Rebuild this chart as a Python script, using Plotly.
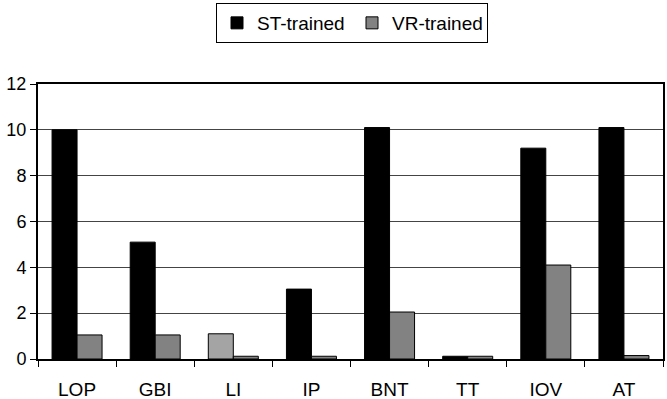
import plotly.graph_objects as go

categories = ["LOP", "GBI", "LI", "IP", "BNT", "TT", "IOV", "AT"]
st_trained = [10.0, 5.1, 1.1, 3.05, 10.1, 0.12, 9.2, 10.1]
vr_trained = [1.05, 1.05, 0.12, 0.12, 2.05, 0.12, 4.1, 0.15]

hatch = dict(shape=".", size=2, solidity=0.9, fgcolor="#000", bgcolor="#ffffff", fillmode="overlay")

st_colors = ["black"] * len(categories)
st_shapes = [""] * len(categories)
st_colors[2] = "#ffffff"
st_shapes[2] = "."

fig = go.Figure()
fig.add_trace(go.Bar(
    x=categories, y=st_trained, name="ST-trained",
    marker=dict(color=st_colors, line=dict(color="black", width=1),
                pattern=dict(shape=st_shapes, size=2, solidity=0.9, fgcolor="#000",
                             bgcolor="#ffffff", fillmode="overlay")),
))
fig.add_trace(go.Bar(
    x=categories, y=vr_trained, name="VR-trained",
    marker=dict(color="#ffffff", line=dict(color="black", width=1), pattern=hatch),
))

fig.update_layout(
    width=667, height=399,
    margin=dict(l=38, r=4, t=84, b=40, autoexpand=False),
    paper_bgcolor="white", plot_bgcolor="white",
    barmode="group", bargap=0.36, bargroupgap=0,
    font=dict(family="Liberation Sans, Arial, sans-serif", size=19, color="black"),
    showlegend=True,
    legend=dict(orientation="h", x=352 / 667, xanchor="center", xref="container",
                y=1 - 3 / 399, yanchor="top", yref="container",
                bordercolor="black", borderwidth=1, font=dict(size=19),
                itemwidth=30, traceorder="normal", tracegroupgap=0,
                entrywidth=90, entrywidthmode="pixels"),
)
fig.update_xaxes(
    automargin=False,
    showline=True, linecolor="black", linewidth=2, mirror=True,
    ticks="outside", tickson="boundaries", ticklen=6, tickcolor="black",
    showgrid=False, tickfont=dict(size=19), ticklabelstandoff=12,
)
fig.update_yaxes(
    automargin=False,
    range=[0, 12], dtick=2, showline=True, linecolor="black", linewidth=2, mirror=True,
    ticks="outside", ticklen=6, tickcolor="black", tickfont=dict(size=18),
    showgrid=True, gridcolor="#444", gridwidth=1, zeroline=False,
)

fig.write_html("out.html", config={"displayModeBar": False},
               post_script="document.body.style.margin='0';document.body.style.overflow='hidden';")
